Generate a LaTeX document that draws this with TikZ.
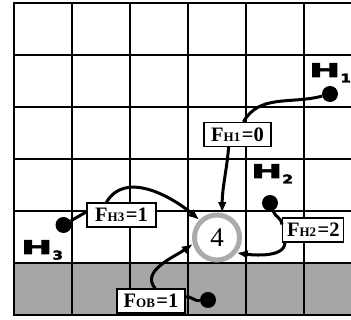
\documentclass[tikz,border=0pt]{standalone}
\usepackage{fontspec}
\setmainfont{Liberation Serif}
\newfontfamily\hfont{DejaVu Sans}[BoldFeatures={FakeBold=3}]
\usetikzlibrary{arrows.meta}
\definecolor{cellgray}{HTML}{A6A6A6}
\definecolor{ringgray}{HTML}{ABABAB}
\newcommand\hlab[1]{{\hfont\bfseries\fontsize{19}{19}\selectfont\scalebox{1.95}[1]{H}\kern0.3pt\raisebox{-5.5pt}{\fontsize{12}{12}\selectfont\scalebox{1.25}[1]{#1}}}}
\newcommand\fsub[1]{{\fontsize{13}{13}\selectfont #1}\kern1.5pt}
\begin{document}
\begin{tikzpicture}[x=1pt,y=1pt,
  gridline/.style={line width=2pt},
  conn/.style={line width=3pt},
  arr/.style={conn,-{Latex[length=11pt,width=9pt]}},
  dot/.style={circle,fill=black,inner sep=0pt,minimum size=16pt},
  fbox/.style={draw,line width=1.3pt,fill=white,inner xsep=3pt,inner ysep=2pt,minimum height=24pt,minimum width=67pt,font=\bfseries\fontsize{20.5}{20.5}\selectfont},
  hl/.style={anchor=base west,inner sep=0pt}
  ]
\useasboundingbox (0,0) rectangle (351,320);
\fill[cellgray] (14,4.5) rectangle (351,56.5);
\foreach \x in {14,72,130,188,246,304} \draw[gridline] (\x,4.5) -- (\x,316.5);
\foreach \y in {4.5,56.5,108.5,160.5,212.5,264.5,316.5} \draw[gridline] (13,\y) -- (351,\y);

\node[circle,draw=ringgray,line width=5pt,minimum size=45pt,inner sep=0pt,font=\fontsize{27}{27}\selectfont] (C) at (217,82.5) {4};

\node[dot] (h1) at (330,226) {};
\node[dot] (h2) at (270,117) {};
\node[dot] (h3) at (63.5,95) {};
\node[dot] (ob) at (208,20) {};

\node[hl] (l1) at (309,243) {\hlab{1}};
\node[hl] (l2) at (251,142) {\hlab{2}};
\node[hl] (l3) at (21,66) {\hlab{3}};

\node[fbox] (FH1) at (237.5,185.5) {F\fsub{H1}=0};
\node[fbox,minimum width=61pt] (FH2) at (313.3,90) {F\fsub{H2}=2};
\node[fbox,minimum width=69pt] (FH3) at (121.5,105) {F\fsub{H3}=1};
\node[fbox,minimum width=68pt] (FOB) at (151,19) {F\fsub{OB}=1};

\draw[conn] (h1) to[out=195,in=60] (FH1.65);
\draw[arr] (FH1.235) to[out=265,in=90] (C.78);
\draw[conn] (h2) to[out=-70,in=95] (FH2.170);
\draw[arr] (FH2.204) to[out=-90,in=-8,looseness=0.8] (C.-38);
\draw[conn] (h3) -- (FH3.175);
\draw[arr] (FH3.140) to[out=60,in=140] (C.135);
\draw[conn] (ob) to[out=185,in=5] (FOB.7);
\draw[arr] (FOB.72) to[out=130,in=215] (C.195);
\end{tikzpicture}
\end{document}
